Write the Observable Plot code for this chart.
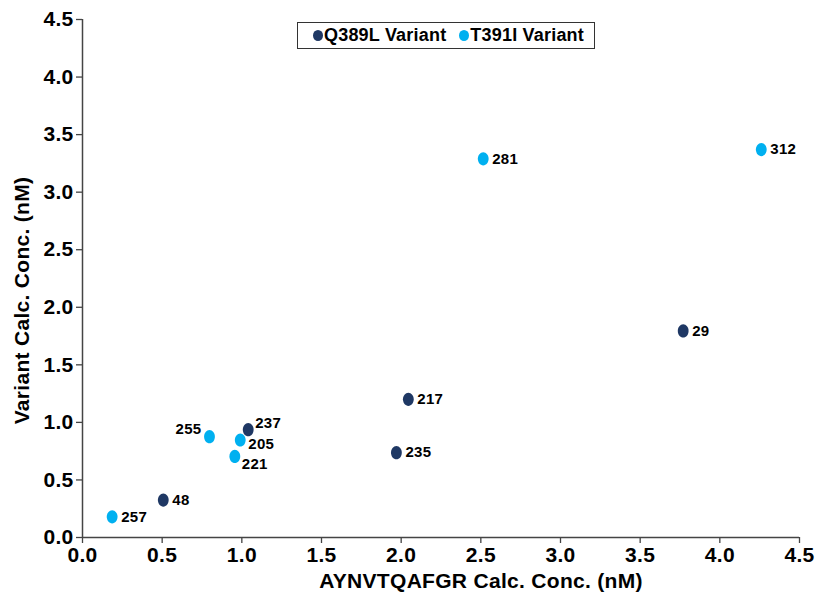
<!DOCTYPE html>
<html>
<head>
<meta charset="utf-8">
<script src="https://cdn.jsdelivr.net/npm/d3@7"></script>
<script src="https://cdn.jsdelivr.net/npm/@observablehq/plot@0.6"></script>
<style>
  html, body { margin: 0; padding: 0; background: #fff; }
  #wrap { position: relative; width: 816px; height: 599px; font-family: "Liberation Sans", Arial, Helvetica, sans-serif; }
  #legend { position: absolute; left: 297px; top: 22px; width: 296px; height: 25px; border: 1.5px solid #333; background: #fff;
            display: flex; align-items: center; font-weight: bold; font-size: 18px; letter-spacing: 0.2px; color: #000; box-sizing: content-box; }
  .item { display: flex; align-items: center; }
  .sw { width: 10px; height: 11px; border-radius: 50%; display: inline-block; margin-right: 1px; }
</style>
</head>
<body>
<div id="wrap"></div>
<script>
// ---- data ----
const seriesNames = ["Q389L Variant", "T391I Variant"];
const seriesColors = ["#1f3864", "#00b0f0"];

const q389lIds = ["48", "237", "235", "217", "29"];
const q389lX   = [0.507, 1.04, 1.97, 2.045, 3.77];
const q389lY   = [0.325, 0.937, 0.737, 1.20, 1.795];

const t391iIds = ["257", "255", "221", "205", "281", "312"];
const t391iX   = [0.186, 0.797, 0.956, 0.99, 2.515, 4.26];
const t391iY   = [0.18, 0.876, 0.704, 0.847, 3.29, 3.37];

const xTicks = [0, 0.5, 1, 1.5, 2, 2.5, 3, 3.5, 4, 4.5];
const yTicks = [0, 0.5, 1, 1.5, 2, 2.5, 3, 3.5, 4, 4.5];

const xTitle = "AYNVTQAFGR Calc. Conc. (nM)";
const yTitle = "Variant Calc. Conc. (nM)";

// label placement (style, not data)
const labelPlacement = {
  "255": {dx: -8, dy: -7, anchor: "end"},
  "237": {dx: 7, dy: -6, anchor: "start"},
  "205": {dx: 8, dy: 4, anchor: "start"},
  "221": {dx: 7, dy: 8, anchor: "start"}
};
const defaultPlacement = {dx: 9, dy: 0, anchor: "start"};

// ---- build table ----
const points = [
  ...q389lIds.map((id, i) => ({id, x: q389lX[i], y: q389lY[i], series: seriesNames[0]})),
  ...t391iIds.map((id, i) => ({id, x: t391iX[i], y: t391iY[i], series: seriesNames[1]}))
];

// slightly tall ellipse symbol
const ellipse = {
  draw(ctx, size) {
    const r = Math.sqrt(size / Math.PI);
    const rx = r * 0.9, ry = r * 1.1, k = 0.5523;
    ctx.moveTo(rx, 0);
    ctx.bezierCurveTo(rx, ry * k, rx * k, ry, 0, ry);
    ctx.bezierCurveTo(-rx * k, ry, -rx, ry * k, -rx, 0);
    ctx.bezierCurveTo(-rx, -ry * k, -rx * k, -ry, 0, -ry);
    ctx.bezierCurveTo(rx * k, -ry, rx, -ry * k, rx, 0);
    ctx.closePath();
  }
};

const labelMarks = points.map(d => {
  const p = labelPlacement[d.id] || defaultPlacement;
  return Plot.text([d], {x: "x", y: "y", text: "id", dx: p.dx, dy: p.dy, textAnchor: p.anchor,
                         fontSize: 15, fontWeight: "bold", fill: "#000"});
});

const chart = Plot.plot({
  width: 816,
  height: 599,
  marginLeft: 82,
  marginRight: 17,
  marginTop: 19,
  marginBottom: 62,
  style: {fontFamily: "'Liberation Sans', Arial, Helvetica, sans-serif", fontSize: "21px", fontWeight: "bold", color: "#000", background: "#fff", letterSpacing: "0.3px"},
  x: {domain: [0, 4.5]},
  y: {domain: [0, 4.5]},
  color: {domain: seriesNames, range: seriesColors},
  marks: [
    Plot.axisX({ticks: xTicks, tickFormat: d3.format(".1f"), tickSize: 6, tickPadding: 4, label: null, stroke: "#444", strokeWidth: 1.3, fill: "#000"}),
    Plot.axisY({ticks: yTicks, tickFormat: d3.format(".1f"), tickSize: 6, tickPadding: 3, label: null, stroke: "#444", strokeWidth: 1.3, fill: "#000"}),
    Plot.ruleX([0], {stroke: "#444", strokeWidth: 1.5}),
    Plot.ruleY([0], {stroke: "#444", strokeWidth: 1.5}),
    Plot.dot(points, {x: "x", y: "y", fill: "series", r: 6, symbol: ellipse, stroke: "none"}),
    ...labelMarks,
    Plot.text([xTitle], {text: d => d, frameAnchor: "bottom", lineAnchor: "middle", textAnchor: "middle", dx: 40, dy: 44, fontSize: 21, fontWeight: "bold", fill: "#000"}),
    Plot.text([yTitle], {text: d => d, frameAnchor: "left", lineAnchor: "middle", textAnchor: "middle", rotate: -90, dx: -60, dy: 22, fontSize: 21, fontWeight: "bold", fill: "#000"})
  ]
});

const wrap = document.getElementById("wrap");
wrap.appendChild(chart);

// legend (colors from the plot's color scale)
const colorScale = chart.scale("color");
const legend = document.createElement("div");
legend.id = "legend";
colorScale.domain.forEach((name, i) => {
  const item = document.createElement("span");
  item.className = "item";
  item.style.marginLeft = i === 0 ? "15px" : "13px";
  const sw = document.createElement("span");
  sw.className = "sw";
  sw.style.background = colorScale.range[i];
  const t = document.createElement("span");
  t.textContent = name;
  item.appendChild(sw);
  item.appendChild(t);
  legend.appendChild(item);
});
wrap.appendChild(legend);
</script>
</body>
</html>
